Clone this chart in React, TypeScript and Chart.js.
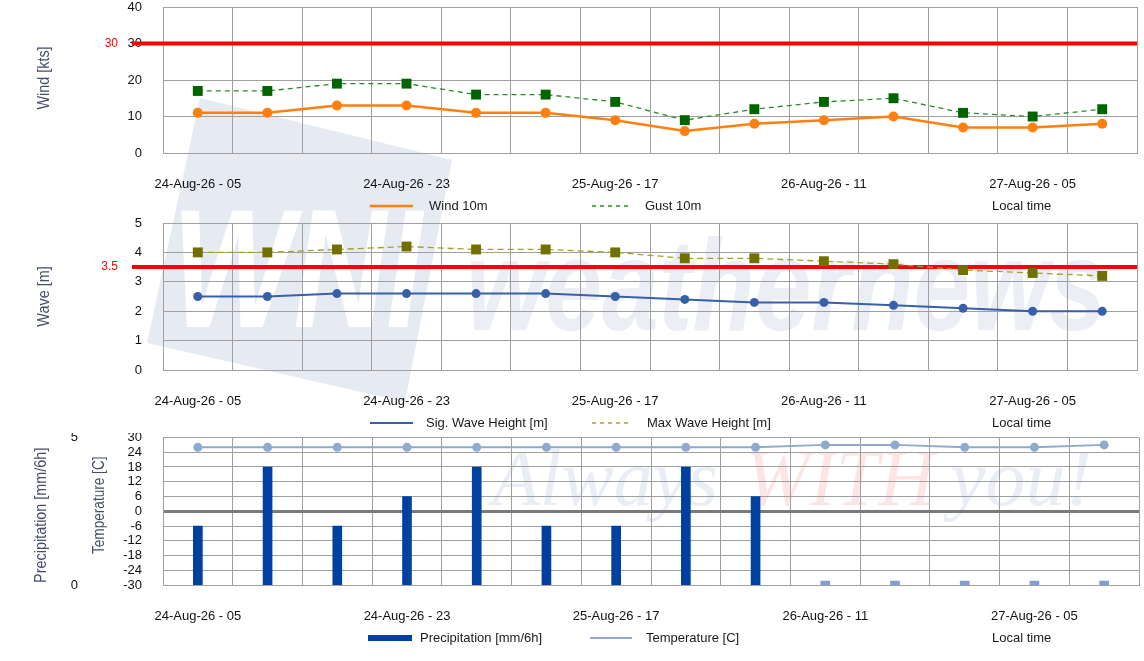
import React, { useEffect, useRef } from 'react';
import { Chart, registerables } from 'chart.js';

Chart.register(...registerables);

// ---------------- data ----------------
const categories = [
  '24-Aug-26 - 05', '24-Aug-26 - 11', '24-Aug-26 - 17', '24-Aug-26 - 23',
  '25-Aug-26 - 05', '25-Aug-26 - 11', '25-Aug-26 - 17', '25-Aug-26 - 23',
  '26-Aug-26 - 05', '26-Aug-26 - 11', '26-Aug-26 - 17', '26-Aug-26 - 23',
  '27-Aug-26 - 05', '27-Aug-26 - 11',
];
const wind10m = [11, 11, 13, 13, 11, 11, 9, 6, 8, 9, 10, 7, 7, 8];
const gust10m = [17, 17, 19, 19, 16, 16, 14, 9, 12, 14, 15, 11, 10, 12];
const sigWaveHeight = [2.5, 2.5, 2.6, 2.6, 2.6, 2.6, 2.5, 2.4, 2.3, 2.3, 2.2, 2.1, 2.0, 2.0];
const maxWaveHeight = [4.0, 4.0, 4.1, 4.2, 4.1, 4.1, 4.0, 3.8, 3.8, 3.7, 3.6, 3.4, 3.3, 3.2];
const precipitation = [2, 4, 2, 3, 4, 2, 2, 4, 3, 0, 0, 0, 0, 0];
const temperature = [26, 26, 26, 26, 26, 26, 26, 26, 26, 27, 27, 26, 26, 27];
const windThreshold = 30;
const waveThreshold = 3.5;
const labelEvery = 3;

// ---------------- styles ----------------
const FONT = '"Liberation Sans", Arial, Helvetica, sans-serif';
const GRID = '#a0a0a0';
const TICK_COLOR = '#111111';
const TITLE_COLOR = '#424d68';

const thresholdPlugin = {
  id: 'threshold',
  beforeDatasetsDraw(chart: any, _args: any, opts: any) {
    if (!opts || opts.value == null) return;
    const { ctx, chartArea } = chart;
    const y = chart.scales.y.getPixelForValue(opts.value);
    ctx.save();
    ctx.strokeStyle = '#ff0000';
    ctx.lineWidth = 4;
    ctx.beginPath();
    ctx.moveTo(chartArea.left - 31, y);
    ctx.lineTo(chartArea.right, y);
    ctx.stroke();
    ctx.fillStyle = '#ff0000';
    ctx.font = `12px ${FONT}`;
    ctx.textAlign = 'right';
    ctx.textBaseline = 'middle';
    ctx.fillText(opts.label, chartArea.left - 45, y);
    ctx.restore();
  },
};

const axisTitlePlugin = {
  id: 'axisTitles',
  afterDraw(chart: any, _args: any, opts: any) {
    if (!opts || !opts.titles) return;
    const { ctx, chartArea } = chart;
    const cy = (chartArea.top + chartArea.bottom) / 2;
    opts.titles.forEach((t: any) => {
      ctx.save();
      ctx.translate(t.x, cy + (t.dy || 0));
      ctx.rotate(-Math.PI / 2);
      ctx.scale(t.squeeze, 1);
      ctx.font = `16px ${FONT}`;
      ctx.fillStyle = TITLE_COLOR;
      ctx.textAlign = 'center';
      ctx.textBaseline = 'middle';
      ctx.fillText(t.text, 0, 0);
      ctx.restore();
    });
  },
};

const legendPlugin = {
  id: 'sheetLegend',
  afterDraw(chart: any, _args: any, opts: any) {
    if (!opts || !opts.items) return;
    const { ctx, chartArea } = chart;
    const y = chartArea.bottom + opts.offsetY;
    ctx.save();
    ctx.font = `13px ${FONT}`;
    ctx.textBaseline = 'middle';
    ctx.textAlign = 'left';
    chart.data.datasets.forEach((ds: any, i: number) => {
      const it = opts.items[i];
      if (!it) return;
      if (ds.type === 'bar') {
        ctx.fillStyle = ds.legendColor;
        ctx.fillRect(it.x, y - 3, it.w, 6);
      } else {
        ctx.strokeStyle = ds.borderColor;
        ctx.lineWidth = ds.legendWidth || ds.borderWidth;
        ctx.setLineDash(ds.legendDash || []);
        ctx.beginPath();
        ctx.moveTo(it.x, y);
        ctx.lineTo(it.x + it.w, y);
        ctx.stroke();
        ctx.setLineDash([]);
      }
      ctx.fillStyle = '#1a1a1a';
      ctx.fillText(ds.label, it.tx, y);
    });
    ctx.fillStyle = '#1a1a1a';
    ctx.fillText(opts.note, opts.noteX, y);
    ctx.restore();
  },
};

function xScale() {
  return {
    type: 'category',
    offset: true,
    grid: { offset: true, color: GRID, lineWidth: 1, drawTicks: false },
    border: { display: true, color: GRID, width: 1 },
    ticks: {
      autoSkip: false,
      maxRotation: 0,
      minRotation: 0,
      padding: 24,
      color: TICK_COLOR,
      font: { family: FONT, size: 13 },
      callback: (_v: any, i: number) => (i % labelEvery === 0 ? categories[i] : ''),
    },
    afterFit: (s: any) => {
      s.height = 63;
      s.paddingLeft = 0;
      s.paddingRight = 0;
    },
  };
}

function yScale(min: number, max: number, step: number, width: number, tickPad: number, extra: any = {}) {
  return {
    type: 'linear',
    position: 'left',
    min,
    max,
    grid: { color: GRID, lineWidth: 1, drawTicks: false, ...(extra.grid || {}) },
    border: { display: true, color: GRID, width: 1, ...(extra.border || {}) },
    ticks: {
      stepSize: step,
      autoSkip: false,
      padding: tickPad,
      color: TICK_COLOR,
      font: { family: FONT, size: 13 },
    },
    weight: extra.weight || 0,
    afterFit: (s: any) => {
      s.width = width;
      s.paddingTop = 0;
      s.paddingBottom = 0;
    },
  };
}

const commonPlugins = {
  legend: { display: false },
  tooltip: { enabled: false },
};

export default function App() {
  const c1 = useRef<HTMLCanvasElement>(null);
  const c2 = useRef<HTMLCanvasElement>(null);
  const c3 = useRef<HTMLCanvasElement>(null);

  useEffect(() => {
    const charts: Chart[] = [];

    charts.push(
      new Chart(c1.current as HTMLCanvasElement, {
        type: 'line',
        data: {
          labels: categories,
          datasets: [
            {
              type: 'line',
              label: 'Wind 10m',
              data: wind10m,
              borderColor: '#ff8010',
              backgroundColor: '#ff8010',
              borderWidth: 2.5,
              pointRadius: 5,
              pointBorderWidth: 0,
              pointBackgroundColor: '#ff8010',
              tension: 0,
            } as any,
            {
              type: 'line',
              label: 'Gust 10m',
              data: gust10m,
              borderColor: '#2a8a2a',
              backgroundColor: '#006400',
              borderWidth: 1.3,
              borderDash: [5, 4],
              legendDash: [4, 4],
              legendWidth: 1.3,
              pointStyle: 'rect',
              pointRadius: 7,
              pointBorderWidth: 0,
              pointBackgroundColor: '#006400',
              tension: 0,
            } as any,
          ],
        },
        options: {
          animation: false,
          responsive: false,
          maintainAspectRatio: false,
          layout: { padding: { top: 5, right: 5, left: 0, bottom: 0 } },
          scales: {
            x: xScale() as any,
            y: yScale(0, 40, 10, 163, 21) as any,
          },
          plugins: {
            ...commonPlugins,
            threshold: { value: windThreshold, label: String(windThreshold) },
            axisTitles: { titles: [{ text: 'Wind [kts]', x: 45, squeeze: 0.9, dy: -2 }] },
            sheetLegend: {
              offsetY: 53,
              items: [
                { x: 370, w: 43, tx: 429 },
                { x: 592, w: 40, tx: 645 },
              ],
              note: 'Local time',
              noteX: 992,
            },
          } as any,
        },
        plugins: [thresholdPlugin, legendPlugin, axisTitlePlugin],
      })
    );

    charts.push(
      new Chart(c2.current as HTMLCanvasElement, {
        type: 'line',
        data: {
          labels: categories,
          datasets: [
            {
              type: 'line',
              label: 'Sig. Wave Height [m]',
              data: sigWaveHeight,
              borderColor: '#3760a8',
              backgroundColor: '#3760a8',
              borderWidth: 2,
              pointRadius: 4.5,
              pointBorderWidth: 0,
              pointBackgroundColor: '#3760a8',
              tension: 0,
            } as any,
            {
              type: 'line',
              label: 'Max Wave Height [m]',
              data: maxWaveHeight,
              borderColor: '#a3a322',
              backgroundColor: '#707000',
              borderWidth: 1.3,
              borderDash: [6, 4],
              legendDash: [4, 4],
              legendWidth: 1.3,
              pointStyle: 'rect',
              pointRadius: 7,
              pointBorderWidth: 0,
              pointBackgroundColor: '#707000',
              tension: 0,
            } as any,
          ],
        },
        options: {
          animation: false,
          responsive: false,
          maintainAspectRatio: false,
          layout: { padding: { top: 6, right: 5, left: 0, bottom: 0 } },
          scales: {
            x: xScale() as any,
            y: yScale(0, 5, 1, 163, 21) as any,
          },
          plugins: {
            ...commonPlugins,
            threshold: { value: waveThreshold, label: String(waveThreshold) },
            axisTitles: { titles: [{ text: 'Wave [m]', x: 45, squeeze: 0.9, dy: 0 }] },
            sheetLegend: {
              offsetY: 53,
              items: [
                { x: 370, w: 43, tx: 426 },
                { x: 592, w: 40, tx: 647 },
              ],
              note: 'Local time',
              noteX: 992,
            },
          } as any,
        },
        plugins: [thresholdPlugin, legendPlugin, axisTitlePlugin],
      })
    );

    charts.push(
      new Chart(c3.current as HTMLCanvasElement, {
        type: 'bar',
        data: {
          labels: categories,
          datasets: [
            {
              type: 'bar',
              label: 'Precipitation [mm/6h]',
              data: precipitation,
              yAxisID: 'yP',
              legendColor: '#0040a0',
              backgroundColor: (ctx: any) => (ctx.raw > 0 ? '#0040a0' : '#7e9fd4'),
              barThickness: 9,
              minBarLength: 4,
              borderWidth: 0,
              order: 2,
            } as any,
            {
              type: 'line',
              label: 'Temperature [C]',
              data: temperature,
              yAxisID: 'y',
              borderColor: '#8eaacd',
              backgroundColor: '#8eaacd',
              borderWidth: 2,
              pointRadius: 4.5,
              pointBorderWidth: 0,
              pointBackgroundColor: '#8eaacd',
              tension: 0,
              order: 1,
            } as any,
          ],
        },
        options: {
          animation: false,
          responsive: false,
          maintainAspectRatio: false,
          layout: { padding: { top: 4, right: 5, left: 0, bottom: 13 } },
          scales: {
            x: xScale() as any,
            yP: yScale(0, 5, 5, 85, 7, {
              weight: 2,
              grid: { display: false },
              border: { display: false },
            }) as any,
            y: {
              ...(yScale(-30, 30, 6, 78, 21, { weight: 1 }) as any),
              grid: {
                drawTicks: false,
                color: (ctx: any) => (ctx.tick && ctx.tick.value === 0 ? '#7a7a7a' : GRID),
                lineWidth: (ctx: any) => (ctx.tick && ctx.tick.value === 0 ? 3 : 1),
              },
            },
          },
          plugins: {
            ...commonPlugins,
            axisTitles: {
              titles: [
                { text: 'Precipitation [mm/6h]', x: 42, squeeze: 0.9, dy: 4 },
                { text: 'Temperature [C]', x: 100, squeeze: 0.85, dy: -6 },
              ],
            },
            sheetLegend: {
              offsetY: 53,
              items: [
                { x: 368, w: 44, tx: 420 },
                { x: 590, w: 42, tx: 646 },
              ],
              note: 'Local time',
              noteX: 992,
            },
          } as any,
        },
        plugins: [legendPlugin, axisTitlePlugin],
      })
    );

    return () => {
      charts.forEach((c) => c.destroy());
    };
  }, []);

  const abs: React.CSSProperties = { position: 'absolute', left: 0 };
  const SERIF = '"Liberation Serif", "Times New Roman", serif';

  return (
    <div
      style={{
        position: 'absolute',
        left: 0,
        top: 0,
        width: 1144,
        height: 661,
        overflow: 'hidden',
        background: '#ffffff',
      }}
    >
      <svg width={1144} height={661} style={{ position: 'absolute', left: 0, top: 0 }}>
        <polygon points="200,98 452,160 405,402 147,343" fill="#e6eaf2" />
        <text
          x={172}
          y={327}
          fontFamily={FONT}
          fontWeight="bold"
          fontStyle="italic"
          fontSize={168}
          fill="#ffffff"
          textLength={250}
          lengthAdjust="spacingAndGlyphs"
        >
          WNI
        </text>
        <text
          x={466}
          y={330}
          fontFamily={FONT}
          fontWeight="bold"
          fontStyle="italic"
          fontSize={130}
          fill="#ebeef5"
          textLength={640}
          lengthAdjust="spacingAndGlyphs"
        >
          weathernews
        </text>
        <text x={492} y={505} fontFamily={SERIF} fontStyle="italic" fontSize={80} fill="#e9edf6" textLength={226} lengthAdjust="spacingAndGlyphs">
          Always
        </text>
        <text x={745} y={505} fontFamily={SERIF} fontStyle="italic" fontSize={80} fill="#fde5e5" textLength={190} lengthAdjust="spacingAndGlyphs">
          WITH
        </text>
        <text x={950} y={505} fontFamily={SERIF} fontStyle="italic" fontSize={80} fill="#e9edf6" textLength={142} lengthAdjust="spacingAndGlyphs">
          you!
        </text>
      </svg>
      <canvas ref={c1} width={1144} height={216} style={{ ...abs, top: 0, width: 1144, height: 216 }} />
      <canvas ref={c2} width={1144} height={217} style={{ ...abs, top: 216, width: 1144, height: 217 }} />
      <canvas ref={c3} width={1144} height={228} style={{ ...abs, top: 433, width: 1144, height: 228 }} />
    </div>
  );
}
